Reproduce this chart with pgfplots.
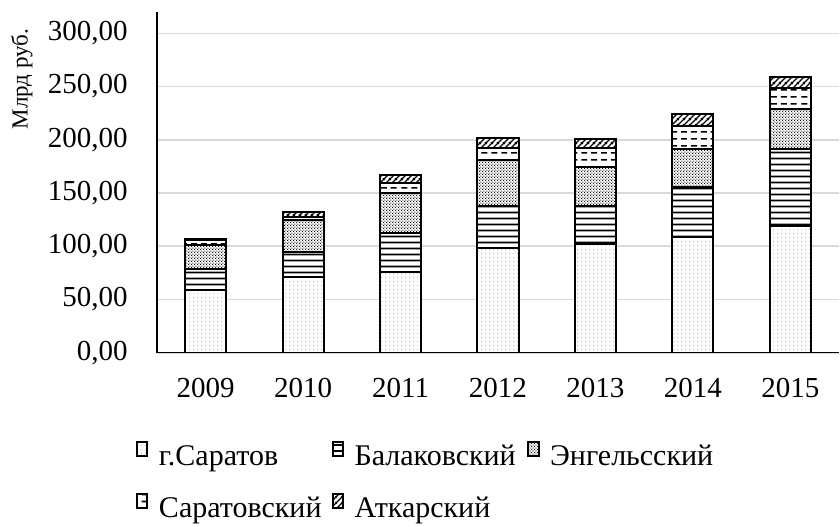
\documentclass[border=0pt]{standalone}
\usepackage{fontspec}
\setmainfont{Liberation Serif}
\usepackage{pgfplots}
\pgfplotsset{compat=1.18}
\usetikzlibrary{patterns}

\pgfdeclarepatternformonly{sparsedots}{\pgfpoint{0pt}{0pt}}{\pgfpoint{2pt}{2pt}}{\pgfpoint{2pt}{2pt}}{%
  \pgfpathcircle{\pgfpoint{1pt}{1pt}}{0.3pt}\pgfusepath{fill}}
\pgfdeclarepatternformonly{densedots}{\pgfpoint{0pt}{0pt}}{\pgfpoint{1.6pt}{1.6pt}}{\pgfpoint{1.6pt}{1.6pt}}{%
  \pgfpathcircle{\pgfpoint{0.4pt}{0.4pt}}{0.38pt}\pgfusepath{fill}%
  \pgfpathcircle{\pgfpoint{1.2pt}{1.2pt}}{0.38pt}\pgfusepath{fill}}
\pgfdeclarepatternformonly{hlines}{\pgfpoint{0pt}{0pt}}{\pgfpoint{600pt}{3pt}}{\pgfpoint{600pt}{3pt}}{%
  \pgfpathrectangle{\pgfpoint{0pt}{1pt}}{\pgfpoint{600pt}{1pt}}\pgfusepath{fill}}
\pgfdeclarepatternformonly{hdashes}{\pgfpoint{0pt}{0pt}}{\pgfpoint{40pt}{3.5pt}}{\pgfpoint{40pt}{3.5pt}}{%
  \pgfpathrectangle{\pgfpoint{0.75pt}{1.35pt}}{\pgfpoint{3pt}{0.8pt}}%
  \pgfpathrectangle{\pgfpoint{5.75pt}{1.35pt}}{\pgfpoint{3pt}{0.8pt}}%
  \pgfpathrectangle{\pgfpoint{10.75pt}{1.35pt}}{\pgfpoint{3pt}{0.8pt}}%
  \pgfpathrectangle{\pgfpoint{15.75pt}{1.35pt}}{\pgfpoint{3pt}{0.8pt}}%
  \pgfpathrectangle{\pgfpoint{20.75pt}{1.35pt}}{\pgfpoint{3pt}{0.8pt}}%
  \pgfpathrectangle{\pgfpoint{25.75pt}{1.35pt}}{\pgfpoint{3pt}{0.8pt}}%
  \pgfpathrectangle{\pgfpoint{30.75pt}{1.35pt}}{\pgfpoint{3pt}{0.8pt}}%
  \pgfpathrectangle{\pgfpoint{35.75pt}{1.35pt}}{\pgfpoint{3pt}{0.8pt}}%
  \pgfusepath{fill}}
\pgfdeclarepatternformonly{diaglines}{\pgfpoint{0pt}{0pt}}{\pgfpoint{3pt}{3pt}}{\pgfpoint{3pt}{3pt}}{%
  \pgfsetlinewidth{0.7pt}%
  \pgfpathmoveto{\pgfpoint{-0.5pt}{-0.5pt}}\pgfpathlineto{\pgfpoint{3.5pt}{3.5pt}}%
  \pgfpathmoveto{\pgfpoint{-0.5pt}{2.5pt}}\pgfpathlineto{\pgfpoint{0.5pt}{3.5pt}}%
  \pgfpathmoveto{\pgfpoint{2.5pt}{-0.5pt}}\pgfpathlineto{\pgfpoint{3.5pt}{0.5pt}}%
  \pgfusepath{stroke}}

\pgfplotsset{
  barbase/.style={draw=black, line width=1pt, preaction={fill=white}},
  barS/.style={barbase, pattern=sparsedots, pattern color=gray!70},
  barB/.style={barbase, pattern=hlines, pattern color=black},
  barE/.style={barbase, pattern=densedots, pattern color=black},
  barR/.style={barbase, pattern=hdashes, pattern color=black},
  barA/.style={barbase, pattern=diaglines, pattern color=black},
}

\pgfplotstableread{
x S B E R A
0 58.8 19.7 22.5 4.4 1.8
1 71.3 23.4 29.7 2.8 5.0
2 75.4 37.1 37.5 9.4 7.2
3 97.9 39.6 43.8 10.9 9.7
4 101.9 35.9 36.6 17.5 8.7
5 108.8 46.8 36.0 21.2 11.0
6 119.0 72.6 37.5 19.7 10.6
}\datatable

\newcommand{\legbox}[1]{\makebox[88pt][l]{\hspace{3.5pt}#1}}

\begin{document}
\begin{tikzpicture}
\useasboundingbox (-78.5pt,-86.65pt) rectangle (341.5pt,176.35pt);
\begin{axis}[
  at={(0,0)}, anchor=south west,
  scale only axis, width=341pt, height=170.35pt,
  ybar stacked, bar width=20.5pt,
  xmin=-0.5, xmax=6.5, ymin=0, ymax=320,
  xtick={0,1,2,3,4,5,6},
  xticklabels={2009,2010,2011,2012,2013,2014,2015},
  ytick={0,50,100,150,200,250,300},
  yticklabel={\pgfmathprintnumber[fixed, fixed zerofill, precision=2, use comma]{\tick}},
  /pgf/number format/assume math mode=true,
  axis lines*=left,
  axis line style={line width=0.75pt, black},
  major tick length=0pt,
  ymajorgrids, grid style={gray!30, line width=0.8pt},
  ticklabel style={font=\fontsize{14.5}{16}\selectfont},
  yticklabel style={anchor=east, inner sep=0pt, xshift=-14.5pt},
  xticklabel style={anchor=north, inner sep=0pt, yshift=-12.5pt},
  legend columns=3,
  legend cell align=left,
  legend style={at={(axis description cs:0,0)}, anchor=north west, xshift=-13.5pt, yshift=-42pt,
    draw=none, fill=none, font=\fontsize{15}{17}\selectfont, row sep=10pt,
    /tikz/every even column/.append style={column sep=0pt}},
  legend image code/.code={\draw[#1, line width=0.6pt] (0pt,0.3pt) rectangle (5.2pt,7.2pt);},
]
\addplot[barS] table[x=x, y=S] {\datatable};
\addplot[barB] table[x=x, y=B] {\datatable};
\addplot[barE] table[x=x, y=E] {\datatable};
\addplot[barR] table[x=x, y=R] {\datatable};
\addplot[barA] table[x=x, y=A] {\datatable};
\legend{\legbox{г.Саратов}, \legbox{Балаковский}, \legbox{Энгельсский}, \legbox{Саратовский}, \legbox{Аткарский}}
\end{axis}
\node[rotate=90, font=\fontsize{11.5}{13}\selectfont] at (-67.5pt,136.8pt) {Млрд руб.};
\end{tikzpicture}
\end{document}
